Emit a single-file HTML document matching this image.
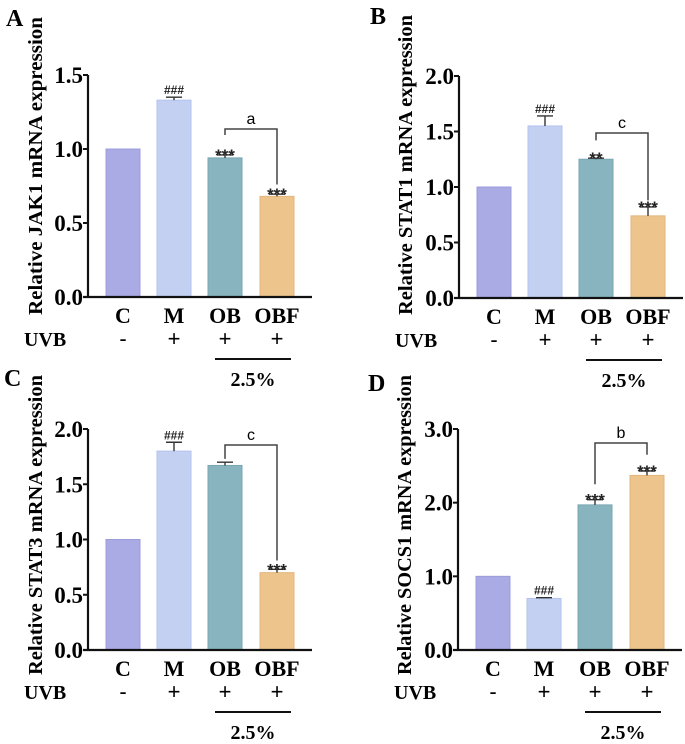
<!DOCTYPE html>
<html><head><meta charset="utf-8">
<style>
html,body{margin:0;padding:0;background:#fff;}
svg{display:block;font-family:"Liberation Serif",serif;}
</style></head>
<body>
<svg id="fig" width="685" height="744" viewBox="0 0 685 744" xmlns="http://www.w3.org/2000/svg"></svg>
<script>
const categories = ["C","M","OB","OBF"];
const uvbMarks = ["-","+","+","+"];
const jak1Values = [1.0, 1.33, 0.94, 0.68];
const jak1Errors = [0, 0.02, 0.02, 0.015];
const jak1Marks = ["", "###", "***", "***"];
const stat1Values = [1.0, 1.55, 1.25, 0.74];
const stat1Errors = [0, 0.09, 0.01, 0.08];
const stat1Marks = ["", "###", "**", "***"];
const stat3Values = [1.0, 1.80, 1.67, 0.70];
const stat3Errors = [0, 0.08, 0.03, 0.03];
const stat3Marks = ["", "###", "", "***"];
const socs1Values = [1.0, 0.70, 1.97, 2.37];
const socs1Errors = [0, 0.01, 0.07, 0.06];
const socs1Marks = ["", "###", "***", "***"];
const jak1Ticks = [0, 0.5, 1.0, 1.5];
const stat1Ticks = [0, 0.5, 1.0, 1.5, 2.0];
const stat3Ticks = [0, 0.5, 1.0, 1.5, 2.0];
const socs1Ticks = [0, 1.0, 2.0, 3.0];

const colors = ["#aaaae5","#c3d0f2","#87b4bf","#ecc48c"];
const strokes = ["#9c9cdc","#b3c3ee","#79a6b2","#e3b67c"];
const NS = "http://www.w3.org/2000/svg";
const svg = document.getElementById("fig");
function mk(tag, attrs, parent, txt){
  const e = document.createElementNS(NS, tag);
  for (const k in attrs) e.setAttribute(k, attrs[k]);
  if (txt !== undefined) e.textContent = txt;
  (parent||svg).appendChild(e);
  return e;
}

function panel(p){
  const g = mk("g", {});
  
  
  const yMax = p.ticks[p.ticks.length-1];
  const ys = v => p.y0 - (v / yMax) * (p.y0 - p.yTop);
  const barX = [18, 69, 120, 172];
  const bw = 34;
  const cx = i => p.ax + barX[i] + bw/2;

  const lt = mk("text", {x:p.lx, y:p.ly, "font-size":24, "font-weight":"bold"}, g, p.letter);
  
  

  const tt = mk("text", {transform:`translate(${p.tx},${p.tyc}) rotate(-90)`, "text-anchor":"middle", "font-size":20, "font-weight":"bold", textLength:p.tlen, lengthAdjust:"spacingAndGlyphs"}, g, p.title);
  
  

  p.values.forEach((v,i)=>{
    const r = mk("rect", {x:p.ax+barX[i], y:ys(v), width:bw, height:p.y0-ys(v), fill:colors[i], stroke:strokes[i], "stroke-width":1}, g);
    
    
    const e = p.errors[i];
    if (e > 0){
      const top = ys(v+e);
      const eb = mk("path", {d:`M${cx(i)} ${ys(v)} V${top} M${cx(i)-8} ${top} H${cx(i)+8}`, stroke:"#333", "stroke-width":1.4, fill:"none"}, g);
      
      
    }
    if (p.marks[i]){
      const isHash = p.marks[i][0]==="#";
      const st = mk("text", {x:cx(i), y:ys(v+e)+ (isHash? -3 : 6), "text-anchor":"middle", "font-size": isHash?12:17, "font-weight":"bold", "font-family":"Liberation Sans, sans-serif", fill:"#222"}, g, p.marks[i]);
      
      
    }
  });

  const ya = mk("path", {d:`M${p.ax} ${p.yTop} V${p.y0}`, stroke:"#111", "stroke-width":2.2, fill:"none"}, g);
  
  
  const xa = mk("path", {d:`M${p.ax-5} ${p.y0} H${p.ax+224}`, stroke:"#111", "stroke-width":2.2, fill:"none"}, g);
  
  
  p.ticks.forEach(t=>{
    mk("path", {d:`M${p.ax-5} ${ys(t)} H${p.ax}`, stroke:"#111", "stroke-width":2}, g);
    const tl = mk("text", {x:p.ax-5, y:ys(t)+8, "text-anchor":"end", "font-size":23, "font-weight":"bold"}, g, t.toFixed(1));
    
    
  });
  categories.forEach((c,i)=>{
    const cl = mk("text", {x:cx(i), y:p.y0+26, "text-anchor":"middle", "font-size":22, "font-weight":"bold"}, g, c);
    
    
    const ul = mk("text", {x:cx(i), y:p.y0+49, "text-anchor":"middle", "font-size":22, "font-family":"Liberation Sans, sans-serif"}, g, uvbMarks[i]);
    
    
  });
  const uv = mk("text", {x:p.ax-64, y:p.y0+49, "font-size":20, "font-weight":"bold"}, g, "UVB");
  
  
  const ln = mk("path", {d:`M${cx(2)-10} ${p.y0+62} H${cx(3)+14}`, stroke:"#111", "stroke-width":2}, g);
  
  
  const pc = mk("text", {x:(cx(2)+cx(3))/2+2, y:p.y0+89, "text-anchor":"middle", "font-size":20, "font-weight":"bold"}, g, "2.5%");
  
  

  const b = p.bracket;
  const br = mk("path", {d:`M${cx(2)} ${ys(b[1])} V${ys(b[0])} H${cx(3)} V${ys(b[2])}`, stroke:"#444", "stroke-width":1.5, fill:"none"}, g);
  
  
  const bl = mk("text", {x:(cx(2)+cx(3))/2, y:ys(b[0])-5, "text-anchor":"middle", "font-size":16, "font-family":"Liberation Sans, sans-serif"}, g, p.bLetter);
  
  
}

panel({letter:"A", lx:6, ly:26, ax:88, yTop:75, y0:297, ticks:jak1Ticks, values:jak1Values, errors:jak1Errors, marks:jak1Marks,
  title:"Relative JAK1 mRNA expression", tx:42, tyc:166, tlen:298, bracket:[1.135,1.095,0.76], bLetter:"a"});
panel({letter:"B", lx:370, ly:24, ax:459, yTop:76, y0:298, ticks:stat1Ticks, values:stat1Values, errors:stat1Errors, marks:stat1Marks,
  title:"Relative STAT1 mRNA expression", tx:412, tyc:165, tlen:300, bracket:[1.486,1.42,0.88], bLetter:"c"});
panel({letter:"C", lx:4, ly:386, ax:88, yTop:429, y0:650, ticks:stat3Ticks, values:stat3Values, errors:stat3Errors, marks:stat3Marks,
  title:"Relative STAT3 mRNA expression", tx:42, tyc:525, tlen:300, bracket:[1.855,1.73,0.81], bLetter:"c"});
panel({letter:"D", lx:368, ly:391, ax:458, yTop:429, y0:650, ticks:socs1Ticks, values:socs1Values, errors:socs1Errors, marks:socs1Marks,
  title:"Relative SOCS1 mRNA expression", tx:411, tyc:525, tlen:300, bracket:[2.81,2.25,2.65], bLetter:"b"});
</script>
</body></html>
